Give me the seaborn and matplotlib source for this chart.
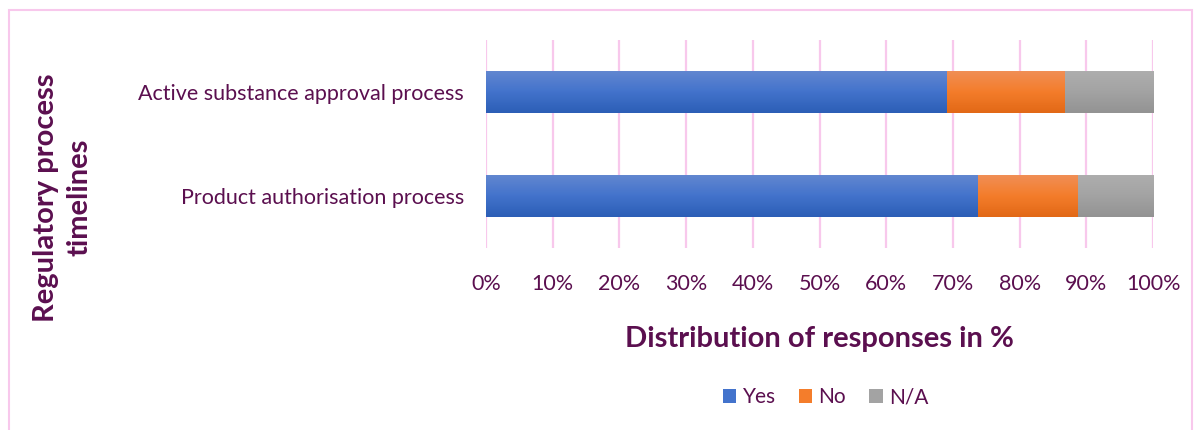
import numpy as np
import pandas as pd
import matplotlib
matplotlib.use("Agg")
import matplotlib.pyplot as plt
import seaborn as sns
from matplotlib.colors import LinearSegmentedColormap
from matplotlib.patches import Rectangle, Patch

categories = ["Active substance approval process", "Product authorisation process"]
series = ["Yes", "No", "N/A"]
yes_vals = [69.0, 73.6]
no_vals = [17.7, 15.1]
na_vals = [13.3, 11.3]
xticks = [0, 10, 20, 30, 40, 50, 60, 70, 80, 90, 100]
xticklabels = [f"{t}%" for t in xticks]

text_color = "#5B0F4F"
grid_color = "#F8C8EC"
colors = {"Yes": ("#6388D0", "#4373CC", "#2C5EB6"),
          "No": ("#F08F57", "#F47D2B", "#E26816"),
          "N/A": ("#AEAEAE", "#A3A3A3", "#939393")}

sns.set_theme(style="white")
plt.rcParams["font.family"] = ["Lato", "DejaVu Sans"]

df = pd.DataFrame({"category": categories, "Yes": yes_vals, "No": no_vals, "N/A": na_vals})
df["cum_yes"] = df["Yes"]
df["cum_no"] = df["Yes"] + df["No"]
df["cum_na"] = df["Yes"] + df["No"] + df["N/A"]

fig = plt.figure(figsize=(12, 4.3), dpi=100)
ax = fig.add_axes([0.405, 0.423, 0.556, 0.484])

layers = [("cum_na", "N/A"), ("cum_no", "No"), ("cum_yes", "Yes")]
patches_by_series = {}
for col, name in layers:
    before = len(ax.patches)
    sns.barplot(data=df, x=col, y="category", order=categories, color=colors[name][1],
                width=0.41, ax=ax, orient="h", linewidth=0, saturation=1)
    patches_by_series[name] = ax.patches[before:]

# gradient fill
for i, (col, name) in enumerate(layers):
    cmap = LinearSegmentedColormap.from_list(name, list(colors[name]))
    grad = np.linspace(0, 1, 64).reshape(-1, 1)
    for p in patches_by_series[name]:
        p.set_zorder(2 + i)
        x0, y0 = p.get_x(), p.get_y()
        w, h = p.get_width(), p.get_height()
        im = ax.imshow(grad, cmap=cmap, aspect="auto",
                       extent=[x0, x0 + w, y0 + h, y0], zorder=2 + i + 0.5)
        im.set_clip_path(p)

ax.set_xlim(0, 100)
ax.set_ylim(1.5, -0.5)

ax.set_xticks(xticks)
ax.set_xticklabels(xticklabels)
ax.xaxis.grid(True, color=grid_color, linewidth=1.6, zorder=0)
ax.set_axisbelow(True)
for s in ax.spines.values():
    s.set_visible(False)
ax.tick_params(axis="both", length=0, colors=text_color, labelsize=15.5)
ax.tick_params(axis="x", pad=19)
ax.tick_params(axis="y", pad=16)
ax.set_xlabel("Distribution of responses in %", fontsize=21, fontweight="bold",
              color=text_color, labelpad=23)
ax.set_ylabel("")

fig.text(0.052, 0.54, "Regulatory process\ntimelines", rotation=90, ha="center", va="center",
         fontsize=21, fontweight="bold", color=text_color, linespacing=1.35)

handles = [Patch(facecolor=colors[s][1], edgecolor="none") for s in series]
leg = fig.legend(handles, series, loc="center", bbox_to_anchor=(0.688, 0.076), ncol=3,
                 frameon=False, fontsize=15, handlelength=0.65, handleheight=0.65,
                 handletextpad=0.3, columnspacing=1.1)
for t in leg.get_texts():
    t.set_color(text_color)

fig.patches.append(Rectangle((9 / 1200, -0.05), 1183 / 1200, 1 - 10 / 430 + 0.05,
                             transform=fig.transFigure, fill=False,
                             edgecolor=grid_color, linewidth=1.5))

fig.savefig("out.png", dpi=100)
